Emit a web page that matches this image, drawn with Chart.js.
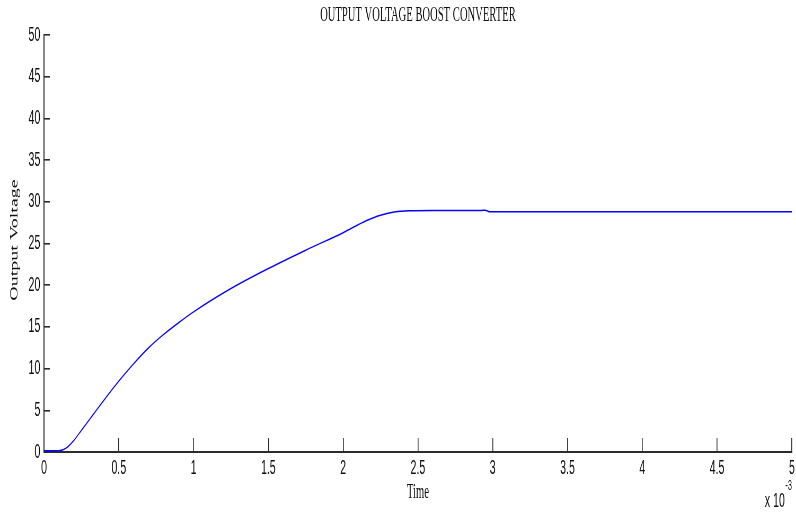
<!DOCTYPE html>
<html>
<head>
<meta charset="utf-8">
<script src="https://cdn.jsdelivr.net/npm/chart.js@4.4.1/dist/chart.umd.min.js"></script>
<style>
  html, body { margin: 0; padding: 0; background: #fff; overflow: hidden; }
  #wrap { width: 796px; height: 513px; overflow: hidden; }
  #chart { display: block; transform: scaleX(0.53); transform-origin: 0 0; }
</style>
</head>
<body>
<div id="wrap"><canvas id="chart" width="1502" height="513"></canvas></div>
<script>
// time in ms (axis shows x 10^-3 s), voltage in V
const TIME    = [0, 0.05, 0.1, 0.15, 0.2, 0.25, 0.3, 0.4, 0.5, 0.6, 0.7, 0.8, 0.9, 1.0, 1.25, 1.5, 1.75, 2.0, 2.15, 2.25, 2.35, 2.45, 2.6, 2.8, 2.92, 2.95, 2.98, 3.2, 3.6, 4, 4.5, 5]
const VOLTAGE = [0.15, 0.15, 0.15, 0.5, 1.4, 2.6, 3.8, 6.2, 8.5, 10.6, 12.5, 14.1, 15.5, 16.8, 19.6, 22.0, 24.2, 26.3, 27.7, 28.4, 28.8, 28.92, 28.95, 28.95, 28.95, 29.0, 28.8, 28.8, 28.8, 28.8, 28.8, 28.8]

const X_TICKS = [0, 0.5, 1, 1.5, 2, 2.5, 3, 3.5, 4, 4.5, 5]
const Y_TICKS = [0, 5, 10, 15, 20, 25, 30, 35, 40, 45, 50]

const TITLE   = 'OUTPUT VOLTAGE BOOST CONVERTER'
const X_TITLE = 'Time'
const Y_TITLE = 'Output Voltage'
const X_EXP   = ['x 10', '-3']

const AXIS_COLOR = '#2b2b2b'
const TEXT_COLOR = '#111'

const labelPlugin = {
  id: 'labels',
  afterDraw(chart) {
    const { ctx, chartArea } = chart
    const cx = (chartArea.left + chartArea.right) / 2
    ctx.save()
    ctx.fillStyle = TEXT_COLOR
    ctx.textAlign = 'center'
    ctx.textBaseline = 'alphabetic'
    ctx.font = '20px "Liberation Serif", "Times New Roman", serif'
    ctx.fillText(TITLE, cx, 21)
    ctx.fillText(X_TITLE, cx, 498)

    ctx.save()
    ctx.translate(28, 240)
    ctx.rotate(-Math.PI / 2)
    ctx.textBaseline = 'middle'
    ctx.fillText(Y_TITLE, 0, 0)
    ctx.restore()

    ctx.textAlign = 'left'
    ctx.font = '20px "Liberation Sans", Arial, sans-serif'
    const x0 = 1443
    ctx.fillText(X_EXP[0], x0, 507)
    const w = ctx.measureText(X_EXP[0]).width
    ctx.font = '14px "Liberation Sans", Arial, sans-serif'
    ctx.fillText(X_EXP[1], x0 + w + 1, 490)
    ctx.restore()
  }
}

const tickFont = { family: '"Liberation Sans", Arial, sans-serif', size: 20 }

new Chart(document.getElementById('chart'), {
  type: 'scatter',
  data: {
    datasets: [{
      label: 'Output Voltage',
      data: TIME.map((t, i) => ({ x: t, y: VOLTAGE[i] })),
      showLine: true,
      borderColor: '#0000ff',
      borderWidth: 1.5,
      pointRadius: 0,
      cubicInterpolationMode: 'monotone',
      fill: false,
    }]
  },
  options: {
    responsive: false,
    animation: false,
    devicePixelRatio: 1,
    layout: { padding: { top: 35, right: 8, left: 0, bottom: 0 } },
    plugins: { legend: { display: false }, tooltip: { enabled: false } },
    scales: {
      x: {
        type: 'linear',
        min: 0, max: 5,
        afterBuildTicks: s => { s.ticks = X_TICKS.map(v => ({ value: v })) },
        afterFit: s => { s.height = 61; s.paddingLeft = 0; s.paddingRight = 0 },
        border: { display: true, color: AXIS_COLOR, width: 2 },
        grid: { drawOnChartArea: false, drawTicks: true, tickLength: -14, color: AXIS_COLOR, lineWidth: 1.6 },
        ticks: { color: TEXT_COLOR, font: tickFont, padding: 18, maxRotation: 0, autoSkip: false, callback: v => String(v) }
      },
      y: {
        min: 0, max: 50,
        afterBuildTicks: s => { s.ticks = Y_TICKS.map(v => ({ value: v })) },
        afterFit: s => { s.width = 83; s.paddingTop = 0; s.paddingBottom = 0 },
        border: { display: true, color: AXIS_COLOR, width: 2 },
        grid: { drawOnChartArea: false, drawTicks: true, tickLength: -11, color: AXIS_COLOR, lineWidth: 1.6 },
        ticks: { color: TEXT_COLOR, font: tickFont, padding: 18, autoSkip: false, callback: v => String(v) }
      }
    }
  },
  plugins: [labelPlugin]
})
</script>
</body>
</html>
